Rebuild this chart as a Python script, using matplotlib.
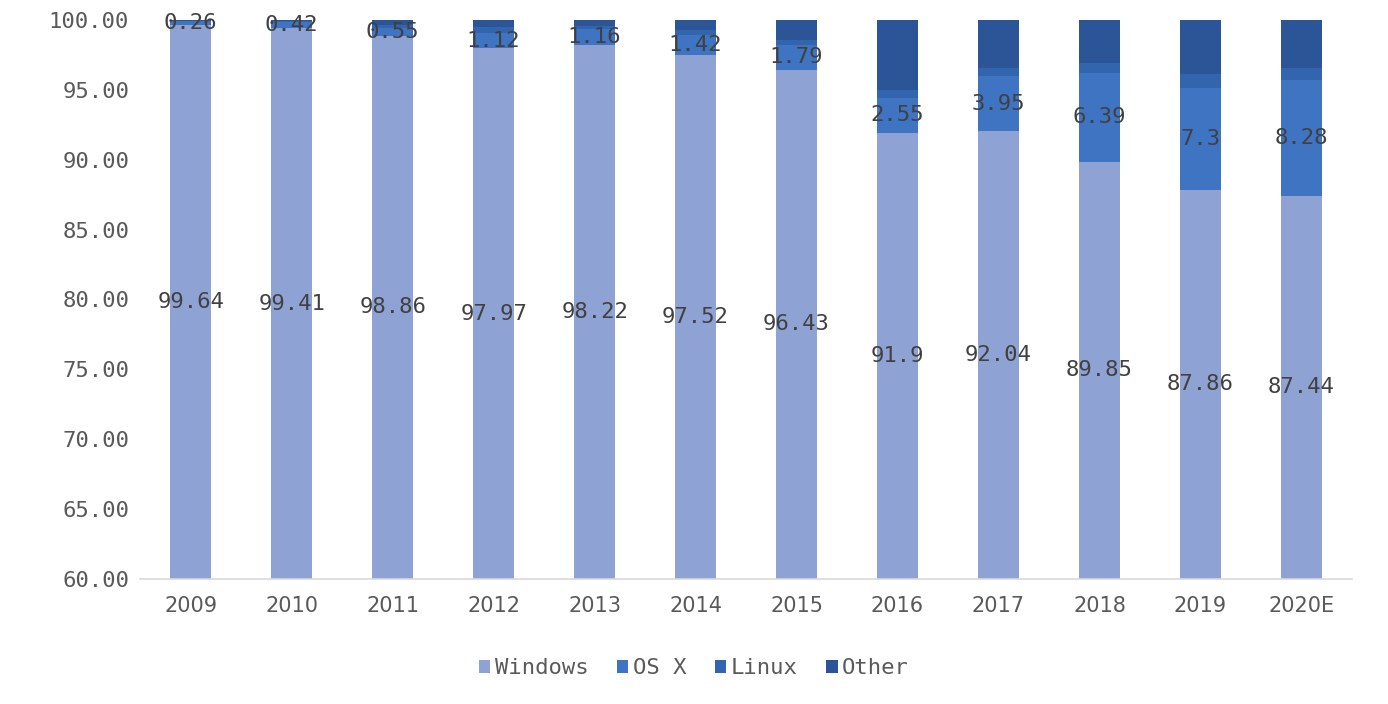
import matplotlib.pyplot as plt
import numpy as np

years = ['2009', '2010', '2011', '2012', '2013', '2014', '2015', '2016', '2017', '2018', '2019', '2020E']
windows = [99.64, 99.41, 98.86, 97.97, 98.22, 97.52, 96.43, 91.9, 92.04, 89.85, 87.86, 87.44]
osx = [0.26, 0.42, 0.55, 1.12, 1.16, 1.42, 1.79, 2.55, 3.95, 6.39, 7.3, 8.28]
linux = [0.04, 0.07, 0.24, 0.41, 0.22, 0.36, 0.38, 0.55, 0.61, 0.66, 0.94, 0.88]
other = [0.06, 0.10, 0.35, 0.50, 0.40, 0.70, 1.40, 5.00, 3.40, 3.10, 3.90, 3.40]

colors = ['#8EA3D3', '#3E74C2', '#3365AE', '#2C5597']
names = ['Windows', 'OS X', 'Linux', 'Other']

fig = plt.figure(figsize=(13.88, 7.04), dpi=100)
ax = fig.add_axes([0.101, 0.1776, 0.873, 0.794])

x = np.arange(len(years))
w = np.array(windows)
o = np.array(osx)
l = np.array(linux)
ot = np.array(other)
width = 0.41

ax.bar(x, w, width, color=colors[0], label=names[0])
ax.bar(x, o, width, bottom=w, color=colors[1], label=names[1])
ax.bar(x, l, width, bottom=w + o, color=colors[2], label=names[2])
ax.bar(x, ot, width, bottom=w + o + l, color=colors[3], label=names[3])

ax.set_ylim(60, 100)
ax.set_xlim(-0.5, len(years) - 0.5)

mono = 'DejaVu Sans Mono'
for i in range(len(years)):
    ax.text(x[i], (60 + w[i]) / 2, f'{windows[i]:g}', ha='center', va='center',
            fontsize=16, color='#404040', family=mono)
    ax.text(x[i], w[i] + o[i] / 2, f'{osx[i]:g}', ha='center', va='center',
            fontsize=16, color='#404040', family=mono)

ax.set_yticks(np.arange(60, 101, 5))
ax.set_yticklabels([f'{v:.2f}' for v in np.arange(60, 101, 5)], family=mono, fontsize=16, color='#595959')
ax.set_xticks(x)
ax.set_xticklabels(years, fontsize=15, color='#595959')
ax.tick_params(axis='both', length=0)
ax.tick_params(axis='y', pad=8)
ax.tick_params(axis='x', pad=12)
for s in ['top', 'right', 'left']:
    ax.spines[s].set_visible(False)
ax.spines['bottom'].set_color('#D9D9D9')
ax.spines['bottom'].set_linewidth(1.2)

handles, labels = ax.get_legend_handles_labels()
fig.legend(handles, labels, loc='center', bbox_to_anchor=(0.5, 0.051), ncol=4, frameon=False,
           prop={'family': mono, 'size': 16}, labelcolor='#595959',
           handlelength=0.5, handleheight=0.5, handletextpad=0.2, columnspacing=1.3)

plt.savefig('out.png', dpi=100)
